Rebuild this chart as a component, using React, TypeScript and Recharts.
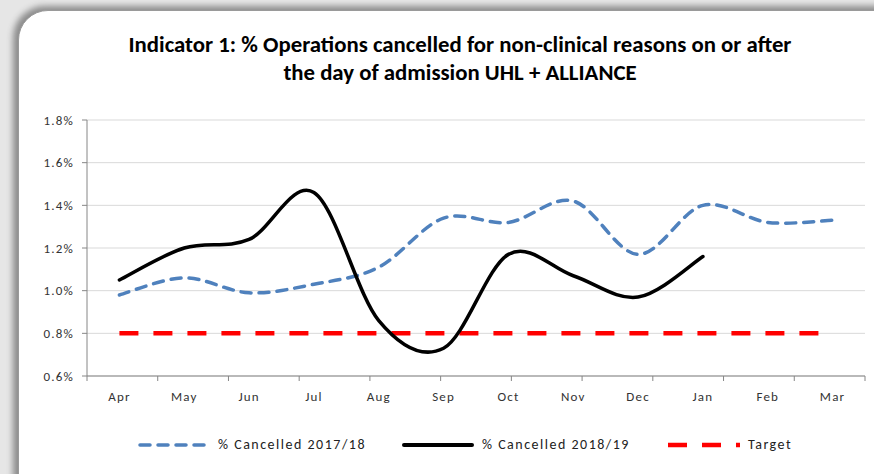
import { LineChart, Line, XAxis, YAxis, CartesianGrid, Legend } from "recharts";

const months = ["Apr", "May", "Jun", "Jul", "Aug", "Sep", "Oct", "Nov", "Dec", "Jan", "Feb", "Mar"];
const cancelled1718 = [0.98, 1.06, 0.99, 1.03, 1.11, 1.34, 1.32, 1.42, 1.17, 1.4, 1.32, 1.33];
const cancelled1819 = [1.05, 1.2, 1.24, 1.46, 0.86, 0.73, 1.17, 1.07, 0.97, 1.16, null, null];
const target = [0.8, 0.8, 0.8, 0.8, 0.8, 0.8, 0.8, 0.8, 0.8, 0.8, 0.8, 0.8];
const yTicks = [0.6, 0.8, 1.0, 1.2, 1.4, 1.6, 1.8];
const boundaryTicks = [0, 1, 2, 3, 4, 5, 6, 7, 8, 9, 10, 11, 12];

const data = months.map((month, i) => ({
  month,
  c1718: cancelled1718[i],
  c1819: cancelled1819[i],
  target: target[i],
}));

const FONT = "Carlito, Lato, sans-serif";

// smooth curve like the one spreadsheet charts draw (bezier through every point)
const smoothCurve = (ctx: any) => {
  let pts: number[][] = [];
  return {
    areaStart() {},
    areaEnd() {},
    lineStart() {
      pts = [];
    },
    lineEnd() {
      if (!pts.length) return;
      ctx.moveTo(pts[0][0], pts[0][1]);
      for (let i = 0; i < pts.length - 1; i++) {
        const p0 = pts[i - 1] || pts[i];
        const p1 = pts[i];
        const p2 = pts[i + 1];
        const p3 = pts[i + 2] || p2;
        const t = 1 / 6;
        ctx.bezierCurveTo(
          p1[0] + (p2[0] - p0[0]) * t,
          p1[1] + (p2[1] - p0[1]) * t,
          p2[0] - (p3[0] - p1[0]) * t,
          p2[1] - (p3[1] - p1[1]) * t,
          p2[0],
          p2[1]
        );
      }
    },
    point(x: number, y: number) {
      pts.push([+x, +y]);
    },
  };
};

const legendItems = [
  { label: "% Cancelled 2017/18", color: "#4F81BD", width: 3.5, dash: "10 8", cap: "round" },
  { label: "% Cancelled 2018/19", color: "#000000", width: 4, dash: undefined, cap: "round" },
  { label: "Target", color: "#FF0000", width: 4.5, dash: "19 15", cap: "butt" },
];

const renderLegend = () => (
  <div style={{ height: 40, position: "relative", fontFamily: FONT, fontSize: 14, letterSpacing: 1.5, color: "#222" }}>
    <div style={{ position: "absolute", top: 20, left: 138, display: "flex", alignItems: "center", whiteSpace: "nowrap" }}>
      {legendItems.map((item, i) => (
        <div key={item.label} style={{ display: "flex", alignItems: "center", marginRight: i === 0 ? 36 : 38 }}>
          <svg width={72} height={16} style={{ marginRight: 8 }}>
            <line
              x1={item.cap === "round" ? 2 : 0}
              x2={item.cap === "round" ? 70 : 72}
              y1={8}
              y2={8}
              stroke={item.color}
              strokeWidth={item.width}
              strokeDasharray={item.dash}
              strokeLinecap={item.cap as any}
            />
          </svg>
          <span>{item.label}</span>
        </div>
      ))}
    </div>
  </div>
);

const tickStyle = { fill: "#333", fontSize: 13, fontFamily: FONT, letterSpacing: 1.2 };

export default function App() {
  return (
    <div style={{ position: "absolute", left: 0, top: 0, width: 874, height: 474, overflow: "hidden", background: "#e6e6e6" }}>
      <div
        style={{
          position: "absolute",
          left: 18,
          top: 10,
          width: 900,
          height: 500,
          background: "#fff",
          borderRadius: 30,
          border: "1px solid #9a9a9a",
          boxShadow: "-3px -2px 6px 2px #8c8c8c",
        }}
      />
      <div
        style={{
          position: "absolute",
          left: 0,
          top: 30,
          width: 920,
          textAlign: "center",
          fontFamily: FONT,
          fontWeight: "bold",
          fontSize: 22.8,
          lineHeight: "28px",
          color: "#000",
        }}
      >
        Indicator 1: % Operations cancelled for non-clinical reasons on or after
        <br />
        the day of admission UHL + ALLIANCE
      </div>
      <div style={{ position: "absolute", left: 0, top: 0 }}>
        <LineChart width={874} height={474} data={data} margin={{ top: 120, right: 9, left: 27, bottom: 18 }}>
          <CartesianGrid vertical={false} stroke="#d9d9d9" xAxisId="cat" />
          <XAxis
            xAxisId="bounds"
            type="number"
            domain={[0, 12]}
            ticks={boundaryTicks}
            height={6}
            tickFormatter={() => ""}
            tickSize={5}
            stroke="#868686"
            tickLine={{ stroke: "#868686" }}
          />
          <XAxis
            xAxisId="cat"
            dataKey="month"
            scale="band"
            height={34}
            axisLine={false}
            tickLine={false}
            tickSize={0}
            tickMargin={10}
            interval={0}
            tick={tickStyle}
          />
          <YAxis
            width={60}
            domain={[0.6, 1.8]}
            ticks={yTicks}
            tickSize={5}
            tickMargin={8}
            stroke="#868686"
            tickFormatter={(v: number) => `${v.toFixed(1)}%`}
            tick={tickStyle}
          />
          <Legend verticalAlign="bottom" height={40} content={renderLegend} wrapperStyle={{ left: 0, width: 874 }} />
          <Line
            xAxisId="cat"
            dataKey="target"
            type="linear"
            stroke="#FF0000"
            strokeWidth={4.5}
            strokeDasharray="19 15"
            dot={false}
            isAnimationActive={false}
          />
          <Line
            xAxisId="cat"
            dataKey="c1718"
            type={smoothCurve as any}
            stroke="#4F81BD"
            strokeWidth={3.5}
            strokeDasharray="10 8"
            strokeLinecap="round"
            dot={false}
            isAnimationActive={false}
          />
          <Line
            xAxisId="cat"
            dataKey="c1819"
            type={smoothCurve as any}
            stroke="#000000"
            strokeWidth={3.5}
            strokeLinecap="round"
            dot={false}
            isAnimationActive={false}
          />
        </LineChart>
      </div>
    </div>
  );
}
